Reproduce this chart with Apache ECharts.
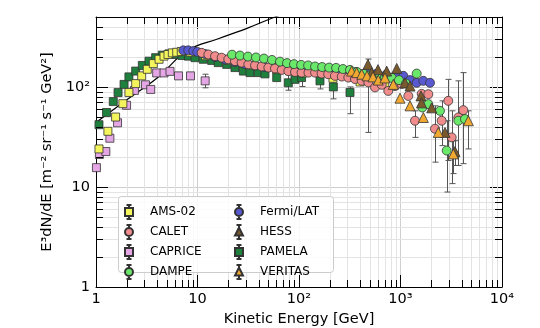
<!DOCTYPE html>
<html><head><meta charset="utf-8">
<script src="https://cdn.jsdelivr.net/npm/echarts@6/dist/echarts.min.js"></script>
<style>html,body{margin:0;padding:0;background:#fff}#c{width:540px;height:328px}</style>
</head><body><div id="c"></div>
<script>
// ---- tick labels ----
const xTickValues = [1, 10, 100, 1000, 10000];
const xTickLabels = ['1', '10', '10²', '10³', '10⁴'];
const yTickValues = [1, 10, 100];
const yTickLabels = ['1', '10', '10²'];
const xMinorTicks = [2,3,4,5,6,7,8,9,20,30,40,50,60,70,80,90,200,300,400,500,600,700,800,900,2000,3000,4000,5000,6000,7000,8000,9000];
const yMinorTicks = [2,3,4,5,6,7,8,9,20,30,40,50,60,70,80,90,200,300,400];

// ---- data: [E (GeV), E^3 dN/dE] ----
const amsData = [[1.07,24],[1.31,36],[1.56,50],[1.84,68],[2.11,88],[2.46,108],[2.82,129],[3.20,150],[3.67,171],[4.18,189],[4.68,203],[5.12,211],[5.65,219],[6.24,222],[6.92,226],[8.5,222],[12,205],[20,185],[35,165],[60,150],[110,138],[216,122],[400,112],[700,106]];
const caletData = [[11.0,219],[12.8,211],[14.9,203],[17.3,196],[20.1,189],[23.4,181],[27.2,175],[31.7,168],[36.9,164],[42.9,160],[49.9,156],[58.0,153],[67.6,148],[78.5,144],[91.3,141],[106,139],[124,139],[144,139],[167,136],[194,134],[226,129],[264,127],[306,124],[356,120],[415,115],[482,111],[561,98.9],[653,105],[758,91.2],[883,102],[1028,107],[1194,81.3],[1389,45.9],[1618,85.2],[1880,84.6],[2187,38.2],[2545,45.9],[2956,72.6],[3193,31.3],[3712,49.5],[4159,58.6]];
const capriceData = [[1.01,15.6],[1.08,21.1],[1.25,22.6],[1.37,30.7],[1.63,43.8],[2.00,65.5],[2.39,92.3],[3.07,105],[3.46,94.4],[3.96,138],[4.68,138],[5.36,143],[6.50,129],[8.53,129],[11.9,115]];
const dampeData = [[21.9,210],[26.2,206],[31.4,201],[37.7,197],[45.2,192],[54.2,186],[65.0,179],[76.2,173],[89.3,169],[105,166],[123,164],[144,160],[169,158],[198,156],[232,155],[271,151],[318,148],[373,141],[437,135],[512,132],[600,129],[703,126],[824,123],[966,117],[1133,108],[1444,136],[1640,62.3],[1880,67.3],[2449,57.7],[2851,23.1],[3712,45.9],[4318,47.7]];
const fermiData = [[7.25,232],[8.11,232],[9.09,228],[9.95,224],[11.9,213],[14.9,199],[18.7,188],[23.4,177],[29.4,169],[36.9,164],[46.2,158],[58.0,155],[72.8,151],[91.3,149],[115,148],[144,148],[180,148],[232,146],[295,144],[364,141],[457,138],[574,135],[719,132],[903,130],[1066,129],[1241,117],[1444,110],[1679,115],[1953,110]];
const hessData = [[478,168],[520,139],[600,149],[731,144],[918,153],[1107,110],[1241,102],[1592,81.3],[1610,69.3],[2029,61.8],[2744,35.1],[3441,22.6]];
const pamelaData = [[1.07,41.9],[1.27,55.5],[1.48,71.4],[1.65,87.8],[1.89,106],[2.11,126],[2.46,144],[2.86,164],[3.33,181],[3.87,196],[4.50,208],[5.24,214],[6.10,211],[7.04,206],[8.15,203],[9.45,196],[11.4,189],[13.8,184],[16.0,175],[19.4,168],[23.4,156],[28.3,144],[32.9,139],[39.7,139],[46.2,135],[60.3,124],[78.5,110],[91.3,119],[106,124],[161,115],[218,100],[318,88]];
const veritasData = [[330,144],[370,139],[415,134],[468,129],[536,126],[604,117],[703,123],[849,106],[989,77.2],[1241,64.7],[1679,49.5],[2357,35.1],[3313,21.4],[4660,45.9]];

// ---- error bars: [E, low, high] ----
const caletErr = [[1389,31.3,57.7],[2187,17.7,64.7],[2545,25.9,72.6],[2956,18.4,119],[3193,10.8,57.7],[3712,16.4,115],[4159,17.1,139]];
const capriceErr = [[11.9,98,134]];
const dampeErr = [[2851,8.9,45.9]];
const hessErr = [[478,35.1,190],[3441,16.4,29]];
const pamelaErr = [[78.5,92.7,132],[106,101,150],[161,95.5,135],[218,76,125],[318,54,100]];
const veritasErr = [[3313,13.6,29],[4660,24,57.7]];

// ---- model curve ----
const modelCurve = [[1,44],[2,74],[4,123],[8,232],[16,303],[32,392],[58,500],[80,560]];

const FONT = 'DejaVu Sans';
const EDGE = '#333';
const ICON_SQ = 'path://M1.5,0H6.5M4,0V3M0,3H8V11H0ZM4,11V14M1.5,14H6.5';
const ICON_CI = 'path://M1.5,0H6.5M4,0V3M0,7A4,4 0 1 0 8,7A4,4 0 1 0 0,7ZM4,11V14M1.5,14H6.5';
const ICON_TR = 'path://M1.5,0H6.5M4,0V3M4,2.5L8,10.5L0,10.5ZM4,10.5V14M1.5,14H6.5';

function logLabel(values, labels) {
  return function (v) {
    const i = values.findIndex(t => Math.abs(Math.log10(t) - Math.log10(v)) < 1e-6);
    return i >= 0 ? labels[i] : '';
  };
}

function scatter(name, data, symbol, size, color) {
  return { name, type: 'scatter', data, symbol, symbolSize: size, z: 3,
    itemStyle: { color, borderColor: EDGE, borderWidth: 0.8, opacity: 1 } };
}
function errBars(data) {
  return { type: 'custom', data, z: 2, silent: true, clip: true,
    encode: { x: 0, y: [1, 2] },
    renderItem(params, api) {
      const e = api.value(0);
      const a = api.coord([e, api.value(1)]);
      const b = api.coord([e, api.value(2)]);
      const x = Math.round(a[0]) + 0.5;
      const st = { stroke: '#555', lineWidth: 1 };
      return { type: 'group', children: [
        { type: 'line', shape: { x1: x, y1: a[1], x2: x, y2: b[1] }, style: st },
        { type: 'line', shape: { x1: x - 3, y1: a[1], x2: x + 3, y2: a[1] }, style: st },
        { type: 'line', shape: { x1: x - 3, y1: b[1], x2: x + 3, y2: b[1] }, style: st }
      ] };
    } };
}
function minorX(kind) {
  return { type: 'custom', data: xMinorTicks.map(v => [v, 1]), z: kind === 'grid' ? 1 : 6, silent: true,
    renderItem(params, api) {
      const cs = params.coordSys;
      const x = Math.round(api.coord([api.value(0), 1])[0]) + 0.5;
      if (kind === 'grid') return { type: 'line', shape: { x1: x, y1: cs.y, x2: x, y2: cs.y + cs.height }, style: { stroke: '#e3e3e3', lineWidth: 1 } };
      return { type: 'group', children: [
        { type: 'line', shape: { x1: x, y1: cs.y + cs.height, x2: x, y2: cs.y + cs.height - 7 }, style: { stroke: '#000', lineWidth: 1 } },
        { type: 'line', shape: { x1: x, y1: cs.y, x2: x, y2: cs.y + 7 }, style: { stroke: '#000', lineWidth: 1 } }
      ] };
    } };
}
function minorY(kind) {
  return { type: 'custom', data: yMinorTicks.map(v => [1, v]), z: kind === 'grid' ? 1 : 6, silent: true,
    renderItem(params, api) {
      const cs = params.coordSys;
      const y = Math.round(api.coord([1, api.value(1)])[1]) + 0.5;
      if (kind === 'grid') return { type: 'line', shape: { x1: cs.x, y1: y, x2: cs.x + cs.width, y2: y }, style: { stroke: '#e3e3e3', lineWidth: 1 } };
      return { type: 'group', children: [
        { type: 'line', shape: { x1: cs.x, y1: y, x2: cs.x + 7, y2: y }, style: { stroke: '#000', lineWidth: 1 } },
        { type: 'line', shape: { x1: cs.x + cs.width, y1: y, x2: cs.x + cs.width - 7, y2: y }, style: { stroke: '#000', lineWidth: 1 } }
      ] };
    } };
}

const axisCommon = {
  type: 'log', logBase: 10,
  axisLine: { show: true, onZero: false, lineStyle: { color: '#000', width: 1 } },
  axisTick: { show: true, inside: true, length: 12, lineStyle: { color: '#000', width: 1 } },
  minorTick: { show: false }, minorSplitLine: { show: false }
};

const chart = echarts.init(document.getElementById('c'), null, { renderer: 'canvas' });
chart.setOption({
  animation: false,
  backgroundColor: '#fff',
  textStyle: { fontFamily: FONT },
  grid: { left: 96, top: 17, right: 38, bottom: 41, containLabel: false, outerBoundsMode: 'none' },
  xAxis: [
    Object.assign({}, axisCommon, { min: 1, max: 10000, position: 'bottom',
      name: 'Kinetic Energy [GeV]', nameLocation: 'middle', nameGap: 23,
      nameTextStyle: { fontFamily: FONT, fontSize: 14.5, color: '#000' },
      axisLabel: { show: true, margin: 5, color: '#000', fontFamily: FONT, fontSize: 14.5, formatter: logLabel(xTickValues, xTickLabels) },
      splitLine: { show: true, lineStyle: { color: '#cfcfcf', width: 1 } } }),
    Object.assign({}, axisCommon, { min: 1, max: 10000, position: 'top', axisLabel: { show: false }, splitLine: { show: false } })
  ],
  yAxis: [
    Object.assign({}, axisCommon, { min: 1, max: 500, position: 'left',
      name: 'E³dN/dE [m⁻² sr⁻¹ s⁻¹ GeV²]', nameLocation: 'middle', nameGap: 32,
      nameTextStyle: { fontFamily: FONT, fontSize: 14.5, color: '#000' },
      axisLabel: { show: true, margin: 6, color: '#000', fontFamily: FONT, fontSize: 14.5, showMaxLabel: false, formatter: logLabel(yTickValues, yTickLabels) },
      splitLine: { show: true, lineStyle: { color: '#cfcfcf', width: 1 } } }),
    Object.assign({}, axisCommon, { min: 1, max: 500, position: 'right', axisLabel: { show: false }, splitLine: { show: false } })
  ],
  legend: [
    { data: [{ name: 'AMS-02', icon: ICON_SQ }, { name: 'CALET', icon: ICON_CI }, { name: 'CAPRICE', icon: ICON_SQ }, { name: 'DAMPE', icon: ICON_CI }],
      orient: 'vertical', left: 119, top: 199, itemWidth: 32, itemHeight: 14, itemGap: 4, z: 20,
      textStyle: { fontFamily: FONT, fontSize: 12, color: '#000' }, selectedMode: false },
    { data: [{ name: 'Fermi/LAT', icon: ICON_CI }, { name: 'HESS', icon: ICON_TR }, { name: 'PAMELA', icon: ICON_SQ }, { name: 'VERITAS', icon: ICON_TR }],
      orient: 'vertical', left: 229, top: 199, itemWidth: 32, itemHeight: 14, itemGap: 4, z: 20,
      textStyle: { fontFamily: FONT, fontSize: 12, color: '#000' }, selectedMode: false }
  ],
  graphic: [{ type: 'rect', left: 118, top: 196, z: 10, silent: true,
    shape: { width: 215, height: 76, r: 3 },
    style: { fill: 'rgba(255,255,255,0.85)', stroke: '#cccccc', lineWidth: 1 } }],
  series: [
    minorX('grid'), minorY('grid'),
    { type: 'line', data: modelCurve, smooth: 0.4, symbol: 'none', z: 2, clip: true,
      lineStyle: { color: '#000', width: 1.2 } },
    errBars(caletErr), errBars(capriceErr), errBars(dampeErr), errBars(hessErr), errBars(pamelaErr), errBars(veritasErr),
    scatter('CAPRICE', capriceData, 'rect', 8, '#e4a6e4'),
    scatter('PAMELA', pamelaData, 'rect', 8, '#1f7f3d'),
    scatter('AMS-02', amsData, 'rect', 8, '#f4f45c'),
    scatter('Fermi/LAT', fermiData, 'circle', 9, '#5858d0'),
    scatter('CALET', caletData, 'circle', 9, '#f08c8c'),
    scatter('DAMPE', dampeData, 'circle', 9, '#6ae86a'),
    scatter('HESS', hessData, 'triangle', 10, '#7a5a2c'),
    scatter('VERITAS', veritasData, 'triangle', 10, '#f0a830'),
    minorX('tick'), minorY('tick')
  ]
});
</script></body></html>
